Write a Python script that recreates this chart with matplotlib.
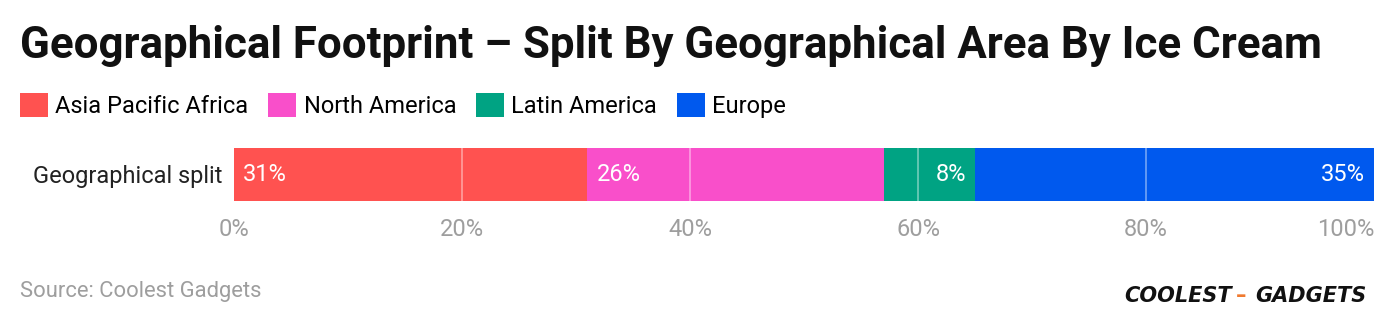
import matplotlib.pyplot as plt
import numpy as np

# data
regions = ['Asia Pacific Africa', 'North America', 'Latin America', 'Europe']
shares = [31, 26, 8, 35]
colors = ['#ff5250', '#f94fca', '#00a383', '#0059ee']
row_label = 'Geographical split'
ticks = [0, 20, 40, 60, 80, 100]
# where the value label sits inside its segment
label_side = ['left', 'left', 'right', 'right']

plt.rcParams['font.family'] = ['Roboto', 'DejaVu Sans']

fig = plt.figure(figsize=(13.96, 3.26), dpi=100)
ax = fig.add_axes([234 / 1396, 1 - 201 / 326, 1140 / 1396, 53 / 326])

left = 0
for name, val, col, side in zip(regions, shares, colors, label_side):
    ax.barh(0, val, left=left, height=1.0, color=col, label=name, zorder=2)
    if side == 'left':
        ax.text(left + 0.8, 0, f'{val}%', color='white', fontsize=17,
                ha='left', va='center', zorder=4)
    else:
        ax.text(left + val - 0.8, 0, f'{val}%', color='white', fontsize=17,
                ha='right', va='center', zorder=4)
    left += val

ax.set_xlim(0, 100)
ax.set_ylim(-0.5, 0.5)
for t in ticks[1:-1]:
    ax.axvline(t, color='white', alpha=0.45, lw=1.2, zorder=3)
ax.set_xticks(ticks)
ax.set_xticklabels([f'{t}%' for t in ticks], color='#9e9e9e', fontsize=17)
ax.get_xticklabels()[-1].set_horizontalalignment('right')
ax.set_yticks([0])
ax.set_yticklabels([row_label], fontsize=17, color='#222222')
ax.tick_params(axis='x', length=0, pad=12)
ax.tick_params(axis='y', length=0, pad=8)
for s in ax.spines.values():
    s.set_visible(False)

fig.text(20 / 1396, 1 - 46 / 326, 'Geographical Footprint – Split By Geographical Area By Ice Cream',
         fontsize=31.6, fontweight='bold', color='#111111', ha='left', va='center')

leg = fig.legend(loc='upper left', bbox_to_anchor=(20 / 1396, 1 - 93 / 326), ncol=4,
                 frameon=False, fontsize=17, handlelength=1.19, handleheight=1.19,
                 handletextpad=0.3, columnspacing=0.85, borderpad=0, borderaxespad=0)

fig.text(20 / 1396, 1 - 291 / 326, 'Source: Coolest Gadgets', fontsize=15.8,
         color='#9e9e9e', ha='left', va='center')

# logo
fig.text(1124 / 1396, 1 - 296 / 326, 'COOLEST', fontsize=15, fontweight='heavy',
         fontstyle='italic', family='DejaVu Sans', color='#111111', va='center')
fig.text(1236 / 1396, 1 - 296 / 326, '–', fontsize=15, fontweight='heavy',
         color='#f07a30', va='center', family='DejaVu Sans')
fig.text(1366 / 1396, 1 - 296 / 326, 'GADGETS', fontsize=15, fontweight='heavy',
         fontstyle='italic', family='DejaVu Sans', color='#111111', va='center',
         ha='right')

fig.savefig('out.png', dpi=100)
